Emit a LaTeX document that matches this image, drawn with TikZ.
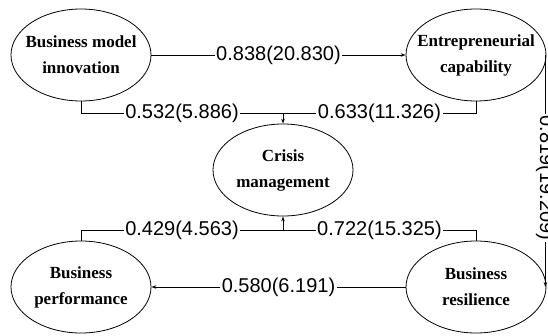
\documentclass[tikz,border=0pt]{standalone}
\usepackage{fontspec}
\setmainfont{Liberation Serif}
\newfontfamily\labfont{Liberation Sans}
\usetikzlibrary{shapes.geometric,arrows.meta}
\begin{document}
\begin{tikzpicture}[x=1pt,y=1pt,
  construct/.style={ellipse,draw,line width=0.8pt,minimum width=140pt,minimum height=92pt,inner sep=0pt},
  ctext/.style={align=center,font=\fontsize{17}{26}\selectfont\bfseries,inner sep=0pt},
  conn/.style={line width=0.8pt},
  arr/.style={conn,-{Stealth[length=5pt,width=3.5pt]}},
  coef/.style={fill=white,inner sep=1.5pt,font=\labfont\fontsize{20}{22}\selectfont}]
\useasboundingbox (0,0) rectangle (548,-335);
\fill[white] (0,0) rectangle (548,-335);
% constructs
\node[construct] (bmi) at (81,-55) {};
\node[ctext] (bmit) at (bmi) {Business model\\innovation};
\node[construct] (ec) at (476,-55) {};
\node[ctext] (ect) at (ec) {Entrepreneurial\\capability};
\node[construct] (cm) at (283,-170) {};
\node[ctext] (cmt) at (cm) {Crisis\\management};
\node[construct] (bp) at (81,-287) {};
\node[ctext] (bpt) at (bp) {Business\\performance};
\node[construct] (br) at (476,-287) {};
\node[ctext] (brt) at (br) {Business\\resilience};
% junction points
\coordinate (cmtop) at (283,-113);
\coordinate (cmbot) at (283,-230);
% paths
\draw[arr] (bmi.east) -- node[coef] {0.838(20.830)} (ec.west);
\draw[conn] (bmi.south) |- node[coef,pos=0.75] {0.532(5.886)} (cmtop);
\draw[conn] (ec.south) |- node[coef,pos=0.75] {0.633(11.326)} (cmtop);
\draw[arr] (cmtop) -- (cm.north);
\draw[conn] (bp.north) |- node[coef,pos=0.75] {0.429(4.563)} (cmbot);
\draw[conn] (br.north) |- node[coef,pos=0.75] {0.722(15.325)} (cmbot);
\draw[arr] (cmbot) -- (cm.south);
\draw[arr] (br.west) -- node[coef] {0.580(6.191)} (bp.east);
\draw[arr] ([xshift=-1pt]ec.east) -- node[coef,rotate=-90,pos=0.53] {0.819(19.209)} ([xshift=-1pt]br.east);
\end{tikzpicture}
\end{document}
